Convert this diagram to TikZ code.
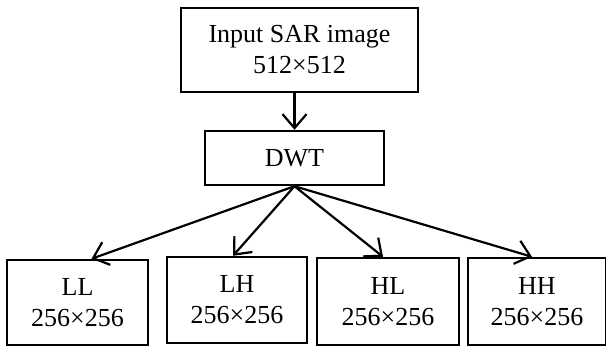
\documentclass[tikz,border=0pt]{standalone}
\usepackage{fontspec}
\setmainfont{Liberation Serif}
\usetikzlibrary{arrows.meta}
\tikzset{
	blk/.style={draw, line width=2.4pt, align=center, inner sep=0pt, font=\fontsize{26}{31}\selectfont},
	arr/.style={-{Straight Barb[length=14pt,width=24pt,line width=2.2pt]}, line width=2.2pt}
}
\begin{document}
\begin{tikzpicture}[x=1pt,y=1pt,yscale=-1,xscale=1]
	\useasboundingbox (0,0) rectangle (606,346);
	
	% Input box
	\node [blk, minimum width=237pt, minimum height=84pt] (input) at (299.5,50) {Input SAR image\\512×512};
	% DWT box
	\node [blk, minimum width=179pt, minimum height=54pt] (dwt) at (294.5,158) {DWT};
	
	% Sub-band boxes
	\node [blk, minimum width=141pt, minimum height=85pt] (ll) at (77.5,302.5) {LL\\256×256};
	\node [blk, minimum width=140pt, minimum height=86pt] (lh) at (237,300) {LH\\256×256};
	\node [blk, minimum width=142pt, minimum height=87pt] (hl) at (388,301.5) {HL\\256×256};
	\node [blk, minimum width=138pt, minimum height=87pt] (hh) at (537,301.5) {HH\\256×256};
	
	% Arrows
	\draw [arr] (input.south -| dwt.north) -- (dwt.north);
	\draw [arr] (dwt.south) -- ([xshift=14pt]ll.north);
	\draw [arr] (dwt.south) -- ([xshift=-4pt]lh.north);
	\draw [arr] (dwt.south) -- ([xshift=-5pt]hl.north);
	\draw [arr] (dwt.south) -- ([xshift=-5pt]hh.north);
	
\end{tikzpicture}
\end{document}
